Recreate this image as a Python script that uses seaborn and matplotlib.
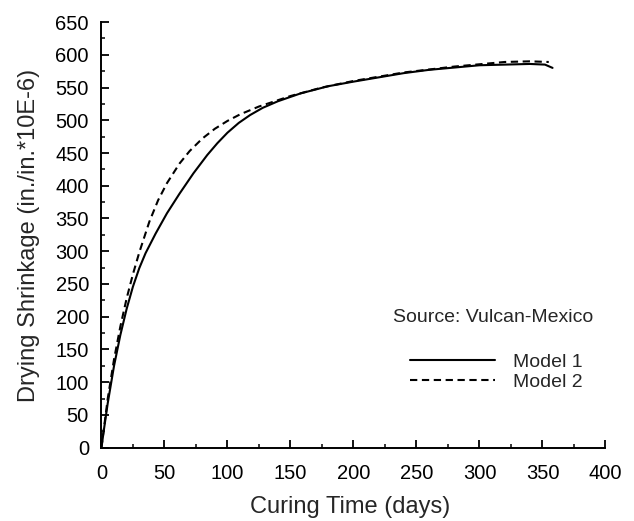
import matplotlib
matplotlib.use("Agg")
import matplotlib.pyplot as plt
import seaborn as sns
import pandas as pd
from matplotlib.ticker import MultipleLocator

# Model 1 (solid)
t_model1 = [0, 2, 5, 10, 15, 20, 25, 30, 35, 43, 52, 62, 73, 84, 92, 100, 109, 118, 128, 140, 158, 180, 200, 240, 260, 300, 340, 352, 358]
s_model1 = [0, 28, 68, 125, 172, 212, 246, 274, 297, 327, 358, 388, 419, 447, 465, 481, 496, 508, 519, 529, 541, 552, 559, 572, 577, 584, 586, 585, 580]
# Model 2 (dashed)
t_model2 = [0, 2, 5, 10, 15, 20, 25, 30, 38, 45, 52, 62, 70, 80, 90, 100, 110, 125, 150, 175, 200, 240, 280, 320, 340, 355]
s_model2 = [0, 30, 75, 135, 185, 228, 265, 298, 345, 378, 404, 434, 453, 472, 487, 499, 509, 521, 537, 550, 560, 573, 582, 589, 590, 589]

labels = ["Model 1", "Model 2"]
x_ticks = [0, 50, 100, 150, 200, 250, 300, 350, 400]
y_ticks = list(range(0, 651, 50))

df = pd.concat([
    pd.DataFrame({"t": t_model1, "s": s_model1, "Model": labels[0]}),
    pd.DataFrame({"t": t_model2, "s": s_model2, "Model": labels[1]}),
])

sns.set_style("ticks")
plt.rcParams['font.family'] = ['Liberation Sans', 'DejaVu Sans']

fig = plt.figure(figsize=(6.34, 5.21), dpi=100)
ax = fig.add_axes([0.160, 0.1407, 0.795, 0.817])

sns.lineplot(data=df, x="t", y="s", style="Model", color="black",
             dashes={labels[0]: "", labels[1]: (3.5, 2.2)}, linewidth=1.5,
             estimator=None, sort=False, ax=ax)

ax.set_xlim(0, 400)
ax.set_ylim(0, 650)
ax.set_xticks(x_ticks)
ax.set_yticks(y_ticks)
ax.xaxis.set_minor_locator(MultipleLocator(25))
ax.yaxis.set_minor_locator(MultipleLocator(25))
ax.tick_params(axis="both", which="major", direction="in", length=6, width=1.3, labelsize=14.5, colors="black")
ax.tick_params(axis="both", which="minor", direction="in", length=3, width=1.3)
ax.tick_params(axis="x", which="major", pad=12)
ax.tick_params(axis="y", which="major", pad=9)
for sp in ["top", "right"]:
    ax.spines[sp].set_visible(False)
for sp in ["left", "bottom"]:
    ax.spines[sp].set_linewidth(1.4)
    ax.spines[sp].set_color("black")

ax.set_xlabel("Curing Time (days)", fontsize=17)
ax.set_ylabel("Drying Shrinkage (in./in.*10E-6)", fontsize=17)
ax.xaxis.set_label_coords(0.493, -0.114)
ax.yaxis.set_label_coords(-0.122, 0.498)

ax.text(0.578, 0.305, "Source: Vulcan-Mexico", transform=ax.transAxes, fontsize=14, ha="left", va="center")

handles, lbls = ax.get_legend_handles_labels()
ax.legend(handles, lbls, loc="upper left", bbox_to_anchor=(0.596, 0.241), frameon=False,
          fontsize=14, handlelength=4.4, handletextpad=0.9, labelspacing=0.15, borderaxespad=0)

fig.savefig("out.png", dpi=100)
